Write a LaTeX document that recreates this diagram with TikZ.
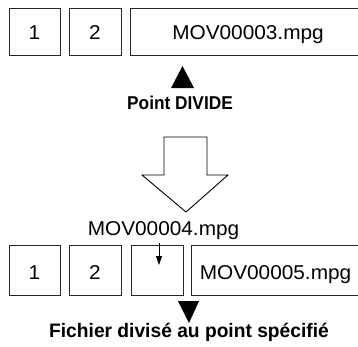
\documentclass[tikz,border=0pt]{standalone}
\usepackage{fontspec}
\setmainfont{Liberation Sans}
\newfontfamily\widesans{Liberation Sans}[FakeStretch=1.04]
\newfontfamily\narrowsans{Liberation Sans}[FakeStretch=0.93]
\newfontfamily\narrowsansb{Liberation Sans}[FakeStretch=0.985]
\usetikzlibrary{arrows.meta}
\begin{document}
\begin{tikzpicture}[x=1pt,y=-1pt,
  cell/.style={draw=black!85,line width=0.9pt,inner sep=0pt,minimum height=47pt},
  lbl/.style={inner sep=0pt,anchor=base,font=\widesans\fontsize{20}{24}\selectfont},
  boldlbl/.style={inner sep=0pt,anchor=base,font=\narrowsans\fontsize{18.6}{22}\selectfont\bfseries},
  boldlbltwo/.style={inner sep=0pt,anchor=base,font=\narrowsansb\fontsize{19.5}{23}\selectfont\bfseries},
  marker/.style={fill=black},
  bigarrow/.style={draw=black,line width=0.9pt,fill=white}]
\useasboundingbox (0,0) rectangle (358,346);
\clip (0,0) rectangle (358,346);
% top row
\node[cell,minimum width=51pt] (a1) at (34.5,31.5) {};
\node[cell,minimum width=52pt] (a2) at (95,31.5) {};
\node[cell,minimum width=236pt] (a3) at (248,31.5) {};
\node[lbl] (ta1) at (34.5,39) {1};
\node[lbl] (ta2) at (95,39) {2};
\node[lbl] (ta3) at (248,39) {MOV00003.mpg};
\fill[marker] (171,88) -- (182.5,66) -- (194,88) -- cycle;
\node[boldlbl] (pd) at (180,109.5) {Point DIVIDE};
% block arrow
\draw[bigarrow] (164,137) -- (207,137) -- (207,175) -- (228,175) -- (186,212) -- (142,175) -- (164,175) -- cycle;
% bottom row
\node[lbl] (t4) at (163.5,235) {MOV00004.mpg};
\node[cell,minimum width=51pt,minimum height=50pt] (b1) at (34.5,270) {};
\node[cell,minimum width=52pt,minimum height=50pt] (b2) at (95,270) {};
\node[cell,minimum width=52pt,minimum height=50pt] (b3) at (157,270) {};
\node[cell,minimum width=169pt,minimum height=50pt] (b4) at (275.5,270) {};
\node[lbl] (tb1) at (34.5,279.5) {1};
\node[lbl] (tb2) at (95,279.5) {2};
\node[lbl] (tb4) at (275.5,279.5) {MOV00005.mpg};
\coordinate (cut) at (159,265);
\draw[line width=0.9pt,-{Triangle[width=6pt,length=9pt]}] (t4.south -| cut) ++(0,4) -- (cut);
\fill[marker] (178,301) -- (199,301) -- (189,323) -- cycle;
\node[boldlbltwo] (fd) at (189,337.5) {Fichier divisé au point spécifié};
\end{tikzpicture}
\end{document}
